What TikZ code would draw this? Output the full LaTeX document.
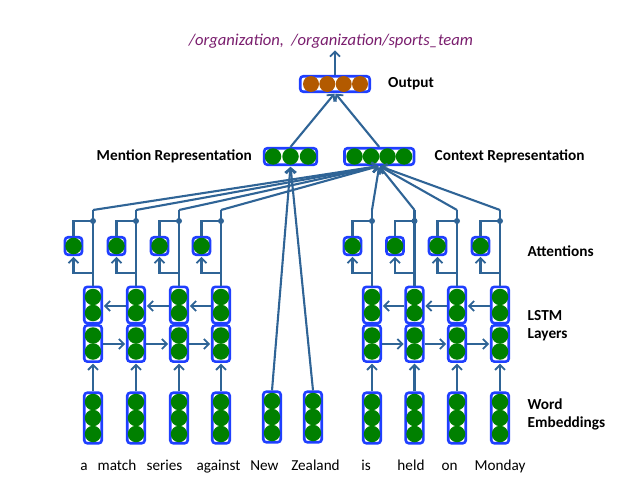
\documentclass[tikz,border=0pt]{standalone}
\usepackage{fontspec}
\setmainfont{Carlito}
\usetikzlibrary{arrows.meta}
\definecolor{boxblue}{HTML}{1F3FFF}
\definecolor{linkblue}{HTML}{2F6496}
\definecolor{dotgreen}{HTML}{008000}
\definecolor{dotbrown}{HTML}{B35A00}
\definecolor{titlepurple}{HTML}{7A1E6E}
\tikzset{
  vbox/.style={draw=boxblue, line width=2.6pt, rounded corners=3pt, fill=white, minimum width=17.5pt, inner sep=0pt},
  gdot/.style={circle, fill=dotgreen, minimum size=16.5pt, inner sep=0pt},
  bdot/.style={circle, fill=dotbrown, minimum size=16pt, inner sep=0pt},
  link/.style={draw=linkblue, line width=2.1pt},
  arr/.style={link, shorten >=0.8pt, -{Straight Barb[length=5pt,width=10pt,line width=1.8pt]}},
  lbl/.style={font=\bfseries\fontsize{15.3}{18}\selectfont, align=left, inner sep=0pt},
  word/.style={font=\fontsize{15.2}{18}\selectfont, anchor=base, inner sep=0pt},
  junc/.style={circle, fill=linkblue, minimum size=6pt, inner sep=0pt}
}
\begin{document}
\begin{tikzpicture}[x=1pt,y=-1pt]
\useasboundingbox (0,0) rectangle (642,500);

% ---- columns with LSTM ----
\foreach \i/\x in {1/93,2/136,3/179,4/221,7/372,8/414.5,9/457,10/500} {
  \node[vbox, minimum height=50.5pt] (e\i) at (\x,418) {};
  \foreach \k/\y in {1/402,2/418,3/434} \node[gdot] (e\i-\k) at (\x,\y) {};
  \node[vbox, minimum height=36.2pt] (l\i) at (\x,343.5) {};
  \node[gdot] (l\i-1) at (\x,335.5) {};
  \node[gdot] (l\i-2) at (\x,351.5) {};
  \node[vbox, minimum height=36.2pt] (u\i) at (\x,305) {};
  \node[gdot] (u\i-1) at (\x,297) {};
  \node[gdot] (u\i-2) at (\x,313) {};
  \node[vbox, minimum width=17pt, minimum height=17.5pt] (a\i) at (\x-19.5,246) {};
  \node[gdot] (a\i-1) at (\x-19.5,246) {};
  \coordinate (c\i) at (\x,210);
  \coordinate (b\i) at (\x,273);
  \coordinate (j\i) at (\x,221);
}

% ---- mention words ----
\foreach \i/\x in {5/272,6/313} {
  \node[vbox, minimum height=50.5pt] (e\i) at (\x,417) {};
  \foreach \k/\y in {1/401,2/417,3/433} \node[gdot] (e\i-\k) at (\x,\y) {};
}

% ---- representations ----
\node[vbox, minimum width=52.5pt, minimum height=16.5pt] (m) at (290.5,156.5) {};
\foreach \k/\x in {1/273,2/290.5,3/308} \node[gdot] (m-\k) at (\x,156.5) {};
\node[vbox, minimum width=69.5pt, minimum height=16.5pt] (ctx) at (379.2,156.5) {};
\foreach \k/\x in {1/354.5,2/371,3/387.5,4/404} \node[gdot] (ctx-\k) at (\x,156.5) {};
\node[vbox, minimum width=69.5pt, minimum height=15.5pt] (out) at (335,84) {};
\foreach \k/\x in {1/311,2/327.3,3/343.7,4/360} \node[bdot] (out-\k) at (\x,84) {};

% ---- connectors ----
\foreach \i in {1,2,3,4,7,8,9,10} {
  \draw[arr] (e\i.north) -- (l\i.south);
  \draw[link] (u\i.north) -- (c\i);
  \draw[arr] (c\i) -- (ctx.south);
  \draw[arr] (b\i) -| (a\i.south);
  \draw[link] (j\i) -| (a\i.north);
  \node[junc] (jd\i) at (j\i) {};
}
\foreach \p/\q in {1/2,2/3,3/4,7/8,8/9,9/10} {
  \draw[arr] (l\p.east |- 0,344) -- (l\q.west |- 0,344);
  \draw[arr] (u\q.west |- 0,306) -- (u\p.east |- 0,306);
}
\draw[arr] (e5.north) -- (m.south);
\draw[arr] (e6.north) -- (m.south);
\draw[arr] (m.north) -- (out.south);
\draw[arr] (ctx.north) -- (out.south);
\coordinate (tip) at (335,49.5);
\draw[arr] (out.north) -- (tip);

% ---- texts ----
\node[font=\itshape\fontsize{16.6}{18}\selectfont, text=titlepurple, inner sep=0pt] (title) at (331,41) {/organization,\ \ /organization/sports\_team};
\node[lbl, anchor=west] (lout) at (388,84) {Output};
\node[lbl, anchor=east] (lmen) at (252,156) {Mention Representation};
\node[lbl, anchor=west] (lctx) at (434.5,156) {Context Representation};
\node[lbl, anchor=west] (latt) at (527.5,251) {Attentions};
\node[lbl, anchor=west] (llstm) at (527.5,326) {LSTM\\Layers};
\node[lbl, anchor=west] (lemb) at (527.5,414) {Word\\Embeddings};

\foreach \i/\x/\w in {1/84/a,2/117/match,3/164.5/series,4/218.5/against,5/264.5/New,6/315.5/Zealand,7/366/is,8/411/held,9/449.5/on,10/500/Monday}
  \node[word] (w\i) at (\x,470.5) {\w};
\end{tikzpicture}
\end{document}
